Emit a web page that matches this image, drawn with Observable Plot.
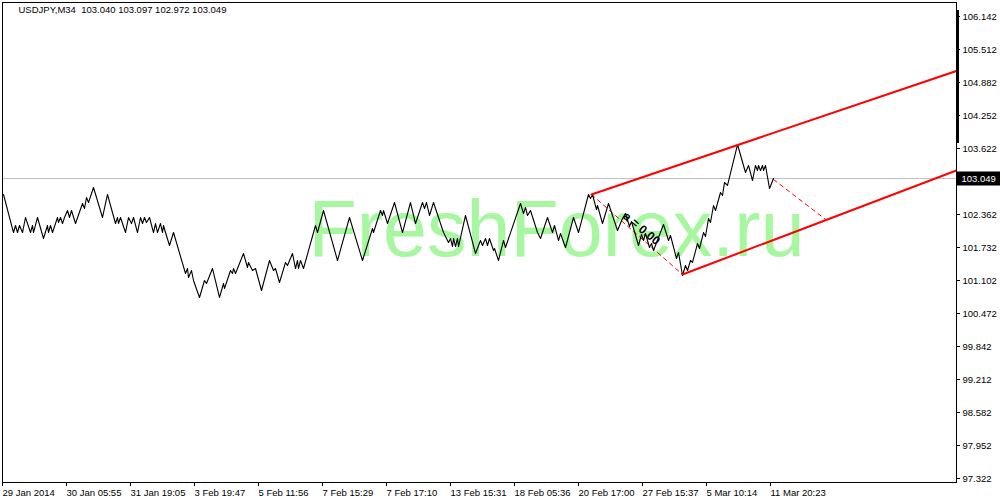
<!DOCTYPE html>
<html><head><meta charset="utf-8">
<script src="https://cdn.jsdelivr.net/npm/d3@7"></script>
<script src="https://cdn.jsdelivr.net/npm/@observablehq/plot@0.6"></script>
<style>
html,body{margin:0;padding:0;background:#fff;}
#chart{width:1000px;height:500px;}
</style></head><body>
<div id="chart"></div>
<script>
// ---- data ----
const titleText = "USDJPY,M34  103.040 103.097 102.972 103.049";
const lastClose = 103.049;
const watermark = "FreshForex.ru";

// turning points of the close-price line (bar index, close)
const bars = [3,13,15,17,19,22,25,30,32,33,37,43,47,48,50,52,57,58,60,62,64,67,69,71,75,82,84,86,88,93,102,107,115,117,118,120,125,128,131,133,137,140,142,144,146,149,153,155,157,160,162,163,165,169,173,185,187,188,191,193,199,204,206,212,219,223,224,230,232,233,235,237,243,247,248,252,255,261,269,273,275,279,285,287,292,295,297,298,300,303,315,317,323,337,349,362,372,373,380,382,383,387,394,402,410,415,422,424,426,429,433,443,448,450,452,453,455,457,458,465,475,480,482,485,487,489,493,494,498,503,505,520,523,525,527,530,537,540,547,552,554,558,560,565,573,578,588,590,592,596,597,602,608,617,622,625,629,631,638,641,643,645,649,651,653,663,668,670,676,678,682,685,687,690,692,697,699,703,705,708,710,713,715,720,722,724,727,737,745,748,752,755,757,758,760,762,763,765,769,773];
const closes = [102.744,102.018,102.152,102.018,102.152,102.018,102.305,102.018,102.152,102.018,102.305,101.904,102.152,102.018,102.152,102.018,102.305,102.209,102.305,102.190,102.305,102.438,102.305,102.438,102.190,102.572,102.477,102.687,102.591,102.878,102.305,102.744,102.190,102.305,102.190,102.305,102.018,102.305,102.190,102.305,102.018,102.305,102.190,102.305,102.209,102.305,102.018,102.190,102.018,102.190,102.018,102.152,102.018,101.770,102.018,101.236,101.331,101.159,101.293,101.102,100.778,101.102,101.045,101.331,100.778,101.045,100.949,101.293,101.236,101.331,101.236,101.331,101.618,101.350,101.446,101.293,101.331,100.911,101.484,101.293,101.331,101.064,101.446,101.388,101.618,101.331,101.484,101.331,101.484,101.331,102.152,102.018,102.438,101.484,102.305,101.484,102.095,102.018,102.438,102.343,102.438,102.190,102.591,102.018,102.591,102.190,102.591,102.477,102.591,102.343,102.591,102.018,101.828,101.904,101.751,101.904,101.751,101.904,101.751,102.343,101.618,101.866,101.770,101.904,101.770,101.904,101.675,101.713,101.484,101.866,101.732,102.572,102.381,102.496,102.343,102.438,102.018,101.904,102.305,102.018,102.152,101.866,101.999,101.732,102.305,102.018,102.744,102.668,102.744,102.457,102.534,102.190,102.572,102.057,102.286,102.381,102.133,102.228,101.770,101.980,101.866,101.999,101.732,101.808,101.675,102.171,101.866,101.961,101.522,101.637,101.198,101.388,101.293,101.484,101.446,101.808,101.713,102.018,101.942,102.286,102.209,102.534,102.438,102.782,102.725,102.973,102.916,103.698,103.164,103.298,103.011,103.298,103.202,103.298,103.202,103.298,103.202,103.298,102.858,103.049];

// time axis
const timeTickBars = [3,67,131,195,259,323,387,451,515,579,643,707,771];
const timeTickLabels = ["29 Jan 2014","30 Jan 05:55","31 Jan 19:05","3 Feb 19:47","5 Feb 11:56","7 Feb 15:29","7 Feb 17:10","13 Feb 15:31","18 Feb 05:36","20 Feb 17:00","27 Feb 15:37","5 Mar 10:14","11 Mar 20:23"];
// price axis (102.992 sits under the current-price tag)
const priceTicks = [106.142,105.512,104.882,104.252,103.622,102.362,101.732,101.102,100.472,99.842,99.212,98.582,97.952,97.322];

// channel objects (bar, price)
const upperBars = [591, 956], upperPrices = [102.744, 105.102];
const lowerBars = [682, 956], lowerPrices = [101.217, 103.202];
const connectBars = [591, 682], connectPrices = [102.744, 101.217];
const projBars = [773, 825], projPrices = [103.030, 102.270];
const labelBar = [641], labelPrice = [102.095], labelText = ["a = 0.00"];
const scaleMarker = [106.257, 103.717];
const tagSpan = [957, 1000]; // price tag extent on the bar axis (right of the frame)

// ---- build ----
const pts = (bs, ps) => bs.map((b, i) => ({b, p: ps[i]}));
const tickLabel = new Map(timeTickBars.map((b, i) => [b, timeTickLabels[i]]));

const plot = Plot.plot({
  width: 1000, height: 500,
  marginLeft: 2, marginRight: 44, marginTop: 2, marginBottom: 18,
  style: "font-family:'Liberation Sans',Arial,sans-serif;font-size:9.5px;background:#fff;overflow:visible;",
  x: {domain: [0, 956], range: [0, 956]},
  y: {domain: [97.322, 106.142], range: [478, 16]},
  marks: [
    Plot.text([watermark], {frameAnchor: "top-left", dx: 306, dy: 197, fontSize: 79, fill: "#a6f7a0", textAnchor: "start", lineAnchor: "top", fontFamily: "Liberation Sans"}),
    Plot.ruleY([lastClose], {stroke: "#c0c0c0", strokeWidth: 1}),
    Plot.line(pts(connectBars, connectPrices), {x: "b", y: "p", stroke: "red", strokeWidth: 1, strokeDasharray: "4,4"}),
    Plot.line(pts(projBars, projPrices), {x: "b", y: "p", stroke: "red", strokeWidth: 1, strokeDasharray: "4,4"}),
    Plot.line(pts(bars, closes), {x: "b", y: "p", stroke: "black", strokeWidth: 1.1}),
    Plot.line(pts(upperBars, upperPrices), {x: "b", y: "p", stroke: "red", strokeWidth: 2, clip: true}),
    Plot.line(pts(lowerBars, lowerPrices), {x: "b", y: "p", stroke: "red", strokeWidth: 2, clip: true}),
    Plot.text(pts(labelBar, labelPrice), {x: "b", y: "p", text: () => labelText[0], rotate: 40, fontSize: 12, fontWeight: "bold", fill: "black"}),
    Plot.frame({stroke: "black"}),
    Plot.ruleX([956], {y1: scaleMarker[0], y2: scaleMarker[1], stroke: "black", strokeWidth: 3, dx: 1}),
    Plot.axisY(priceTicks, {anchor: "right", tickSize: 3, tickPadding: 3, tickFormat: d => d.toFixed(3), label: null, fill: "black"}),
    Plot.axisX(timeTickBars, {anchor: "bottom", tickSize: 4, tickPadding: 3, tickFormat: d => tickLabel.get(d), textAnchor: "start", dx: -1, label: null, fill: "black"}),
    Plot.text([titleText], {frameAnchor: "top-left", dx: 16, dy: 4, textAnchor: "start", lineAnchor: "top", fill: "black"}),
    // current price tag
    Plot.ruleY([lastClose], {x1: tagSpan[0], x2: tagSpan[1], stroke: "#000", strokeWidth: 14}),
    Plot.text([lastClose], {x: tagSpan[0], y: d => d, text: d => d.toFixed(3), textAnchor: "start", dx: 4, fill: "#fff"})
  ]
});
d3.select(plot).selectAll("text").style("white-space", "pre");
document.getElementById("chart").appendChild(plot);
</script>
</body></html>
